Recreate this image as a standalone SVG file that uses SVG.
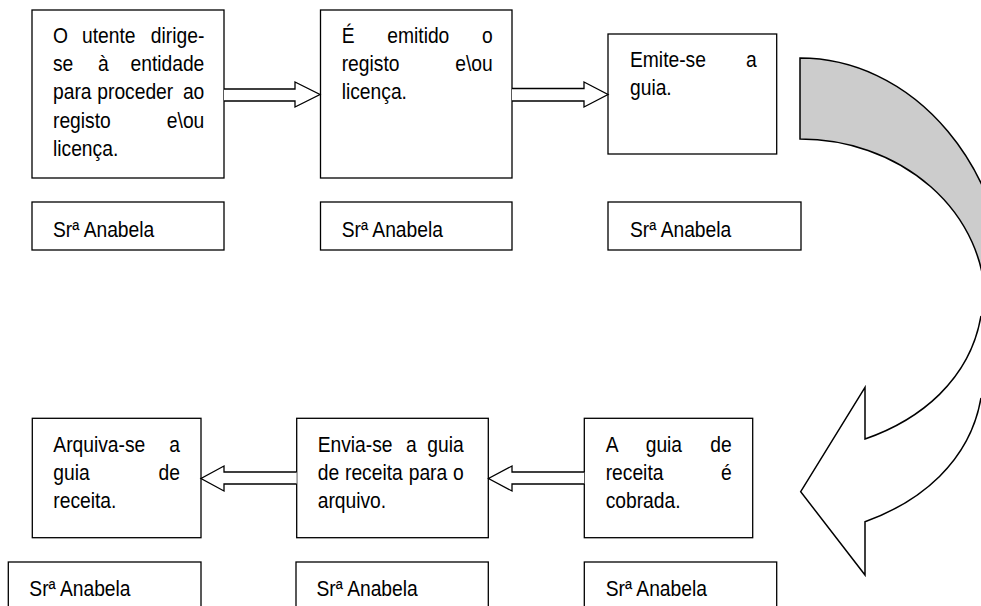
<svg xmlns="http://www.w3.org/2000/svg" width="981" height="606" viewBox="0 0 981 606">
  <style>
    .box{fill:#fff;stroke:#000;stroke-width:1.3}
    .t{font-family:"Liberation Sans",Arial,sans-serif;font-size:22px;fill:#000}
    .e{text-anchor:end}
    .blk{fill:#fff;stroke:#000;stroke-width:1.3;stroke-linejoin:miter}
    .back{fill:#cccccc;stroke:#000;stroke-width:1.5}
    .front{fill:#fff;stroke:#000;stroke-width:1.5;stroke-linejoin:miter}
  </style>
  <rect width="981" height="606" fill="#fff"/>

  <!-- text is set in a slightly condensed face: each label is squeezed to 87.5% width -->

  <!-- top row: steps -->
  <g id="step1">
    <rect class="box" x="32" y="10" width="192" height="168"/>
    <text class="t" transform="matrix(0.875 0 0 1 53 42.7)">O</text>
    <text class="t" transform="matrix(0.875 0 0 1 82 42.7)">utente</text>
    <text class="t e" transform="matrix(0.875 0 0 1 204.3 42.7)">dirige-</text>
    <text class="t" transform="matrix(0.875 0 0 1 53 71)">se</text>
    <text class="t" transform="matrix(0.875 0 0 1 98 71)">à</text>
    <text class="t e" transform="matrix(0.875 0 0 1 204.3 71)">entidade</text>
    <text class="t" transform="matrix(0.875 0 0 1 53 99.3)">para</text>
    <text class="t" transform="matrix(0.875 0 0 1 97.3 99.3)">proceder</text>
    <text class="t e" transform="matrix(0.875 0 0 1 204.3 99.3)">ao</text>
    <text class="t" transform="matrix(0.875 0 0 1 53 127.7)">registo</text>
    <text class="t e" transform="matrix(0.875 0 0 1 204.3 127.7)">e\ou</text>
    <text class="t" transform="matrix(0.875 0 0 1 53 156)">licença.</text>
  </g>
  <g id="step2">
    <rect class="box" x="320.5" y="10" width="191.5" height="168"/>
    <text class="t" transform="matrix(0.875 0 0 1 341.7 42.7)">É</text>
    <text class="t" transform="matrix(0.875 0 0 1 387.3 42.7)">emitido</text>
    <text class="t e" transform="matrix(0.875 0 0 1 492.7 42.7)">o</text>
    <text class="t" transform="matrix(0.875 0 0 1 341.7 71)">registo</text>
    <text class="t e" transform="matrix(0.875 0 0 1 492.7 71)">e\ou</text>
    <text class="t" transform="matrix(0.875 0 0 1 341.7 99.3)">licença.</text>
  </g>
  <g id="step3">
    <rect class="box" x="608" y="34" width="168.7" height="120"/>
    <text class="t" transform="matrix(0.875 0 0 1 630 66.7)">Emite-se</text>
    <text class="t e" transform="matrix(0.875 0 0 1 756.7 66.7)">a</text>
    <text class="t" transform="matrix(0.875 0 0 1 630 95)">guia.</text>
  </g>

  <!-- top row: owners -->
  <g id="owner1">
    <rect class="box" x="32" y="202" width="192" height="48"/>
    <text class="t" transform="matrix(0.875 0 0 1 53 237)">Srª Anabela</text>
  </g>
  <g id="owner2">
    <rect class="box" x="320.5" y="202" width="191.5" height="48"/>
    <text class="t" transform="matrix(0.875 0 0 1 341.7 237)">Srª Anabela</text>
  </g>
  <g id="owner3">
    <rect class="box" x="608" y="202" width="193" height="48"/>
    <text class="t" transform="matrix(0.875 0 0 1 630 237)">Srª Anabela</text>
  </g>

  <!-- bottom row: steps -->
  <g id="step4">
    <rect class="box" x="584.3" y="418.3" width="168.4" height="119.4"/>
    <text class="t" transform="matrix(0.875 0 0 1 605.7 451.5)">A</text>
    <text class="t" transform="matrix(0.875 0 0 1 645.7 451.5)">guia</text>
    <text class="t e" transform="matrix(0.875 0 0 1 731.7 451.5)">de</text>
    <text class="t" transform="matrix(0.875 0 0 1 605.7 479.8)">receita</text>
    <text class="t e" transform="matrix(0.875 0 0 1 731.7 479.8)">é</text>
    <text class="t" transform="matrix(0.875 0 0 1 605.7 508.1)">cobrada.</text>
  </g>
  <g id="step5">
    <rect class="box" x="296.7" y="418.3" width="191.6" height="119.4"/>
    <text class="t" transform="matrix(0.875 0 0 1 317.7 451.5)">Envia-se</text>
    <text class="t" transform="matrix(0.875 0 0 1 406 451.5)">a</text>
    <text class="t e" transform="matrix(0.875 0 0 1 463.7 451.5)">guia</text>
    <text class="t" transform="matrix(0.875 0 0 1 317.7 479.8)">de</text>
    <text class="t" transform="matrix(0.875 0 0 1 345 479.8)">receita</text>
    <text class="t" transform="matrix(0.875 0 0 1 408.7 479.8)">para</text>
    <text class="t e" transform="matrix(0.875 0 0 1 463.7 479.8)">o</text>
    <text class="t" transform="matrix(0.875 0 0 1 317.7 508.1)">arquivo.</text>
  </g>
  <g id="step6">
    <rect class="box" x="32.3" y="418.3" width="168.7" height="119.4"/>
    <text class="t" transform="matrix(0.875 0 0 1 53.3 451.5)">Arquiva-se</text>
    <text class="t e" transform="matrix(0.875 0 0 1 180 451.5)">a</text>
    <text class="t" transform="matrix(0.875 0 0 1 53.3 479.8)">guia</text>
    <text class="t e" transform="matrix(0.875 0 0 1 180 479.8)">de</text>
    <text class="t" transform="matrix(0.875 0 0 1 53.3 508.1)">receita.</text>
  </g>

  <!-- bottom row: owners (run past the lower edge) -->
  <g id="owner4">
    <rect class="box" x="584.3" y="562" width="192.4" height="60"/>
    <text class="t" transform="matrix(0.875 0 0 1 605.7 596)">Srª Anabela</text>
  </g>
  <g id="owner5">
    <rect class="box" x="296" y="562" width="192.3" height="60"/>
    <text class="t" transform="matrix(0.875 0 0 1 316.5 596)">Srª Anabela</text>
  </g>
  <g id="owner6">
    <rect class="box" x="8.3" y="562" width="192.7" height="60"/>
    <text class="t" transform="matrix(0.875 0 0 1 29.3 596)">Srª Anabela</text>
  </g>

  <!-- connectors -->
  <g id="connectors">
    <path class="blk" d="M224,89 H295 V82 L320,94.5 L295,107 V101 H224"/>
    <path class="blk" d="M512,88.5 H584 V82 L608,94.5 L584,107 V101 H512"/>
    <path class="blk" d="M584.3,472 H512 V466 L488.5,478.5 L512,491 V484 H584.3"/>
    <path class="blk" d="M296.7,472 H224 V466 L201,478.5 L224,491 V484 H296.7"/>
    <g id="curved-arrow">
      <path class="back" d="M800,58 A209,250 0 0 1 1009,308 L985,302 A185,163 0 0 0 800,139 Z"/>
      <path class="front" d="M981,316 C970,380 920,420 865,439 L865,387.3 L800.7,491.7 L865,575 L865,521.7 C920,502 970,462 981,398"/>
    </g>
  </g>
</svg>
